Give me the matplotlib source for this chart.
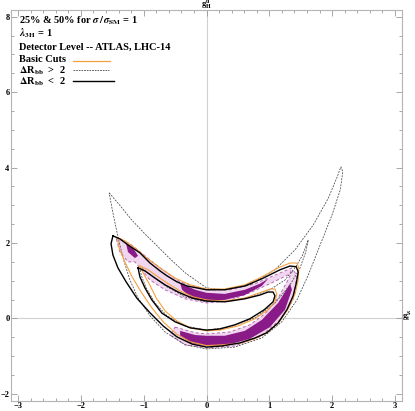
import numpy as np
import matplotlib
matplotlib.use("Agg")
import matplotlib.pyplot as plt

plt.rcParams["font.family"] = "serif"
plt.rcParams["font.serif"] = ["Liberation Serif", "DejaVu Serif"]
plt.rcParams["font.weight"] = "bold"
plt.rcParams["mathtext.fontset"] = "stix"

# contour loops, points are (g_t^S, g_H^u)
black_outer = [(-1.49, 2.19), (-1.38, 2.11), (-1.25, 1.95), (-1.06, 1.74), (-0.90, 1.47),
               (-0.74, 1.26), (-0.63, 1.13), (-0.47, 0.97), (-0.31, 0.86), (0.0, 0.76),
               (0.29, 0.76), (0.61, 0.86), (0.88, 1.05), (1.17, 1.29), (1.33, 1.39),
               (1.43, 1.37), (1.46, 1.23), (1.43, 0.94), (1.38, 0.60), (1.28, 0.23),
               (1.14, -0.12), (0.96, -0.38), (0.77, -0.52), (0.53, -0.65), (0.25, -0.73),
               (0.0, -0.76), (-0.23, -0.68), (-0.47, -0.49), (-0.69, -0.20), (-0.90, 0.15),
               (-1.11, 0.54), (-1.28, 0.97), (-1.41, 1.34), (-1.49, 1.68), (-1.52, 1.98)]
black_inner = [(-1.09, 1.34), (-0.98, 1.26), (-0.82, 1.07), (-0.66, 0.89), (-0.45, 0.70),
               (-0.23, 0.54), (0.0, 0.46), (0.29, 0.44), (0.61, 0.52), (0.85, 0.62),
               (0.98, 0.70), (1.06, 0.70), (1.09, 0.60), (1.06, 0.44), (0.92, 0.23),
               (0.69, -0.01), (0.45, -0.17), (0.21, -0.28), (0.0, -0.31), (-0.26, -0.25),
               (-0.50, -0.09), (-0.71, 0.14), (-0.87, 0.49), (-0.98, 0.81), (-1.06, 1.10)]
orange_outer = [(-1.41, 2.14), (-1.30, 2.06), (-1.14, 1.87), (-0.95, 1.60), (-0.74, 1.34),
                (-0.50, 1.07), (-0.26, 0.89), (0.0, 0.78), (0.29, 0.78), (0.61, 0.89),
                (0.88, 1.10), (1.14, 1.34), (1.33, 1.47), (1.44, 1.47), (1.47, 1.34),
                (1.46, 1.02), (1.41, 0.65), (1.31, 0.28), (1.17, -0.07), (0.98, -0.36),
                (0.77, -0.54), (0.53, -0.66), (0.25, -0.70), (0.0, -0.72), (-0.26, -0.62),
                (-0.48, -0.41), (-0.69, -0.09), (-0.87, 0.28), (-1.04, 0.70), (-1.19, 1.12),
                (-1.30, 1.50), (-1.38, 1.82), (-1.41, 2.03)]
orange_inner = [(-1.06, 1.39), (-0.93, 1.29), (-0.77, 1.10), (-0.61, 0.92), (-0.42, 0.73),
                (-0.21, 0.57), (0.0, 0.49), (0.29, 0.46), (0.61, 0.54), (0.88, 0.70),
                (1.01, 0.78), (1.09, 0.78), (1.12, 0.65), (1.09, 0.44), (0.98, 0.23),
                (0.77, -0.01), (0.50, -0.20), (0.21, -0.31), (0.0, -0.33), (-0.26, -0.25),
                (-0.47, -0.07), (-0.66, 0.20), (-0.80, 0.54), (-0.91, 0.91), (-1.01, 1.21)]
dashed_outer = [(-1.55, 3.33), (-1.41, 3.06), (-1.19, 2.61), (-0.98, 2.24), (-0.79, 1.93),
                (-0.58, 1.58), (-0.34, 1.21), (0.0, 0.81), (0.29, 0.76), (0.69, 0.89),
                (1.09, 1.29), (1.41, 1.82), (1.70, 2.48), (1.94, 3.19), (2.08, 3.75),
                (2.14, 4.02), (2.17, 3.89), (2.13, 3.41), (2.00, 2.75), (1.81, 1.95),
                (1.62, 1.15), (1.44, 0.49), (1.20, -0.09), (0.88, -0.52), (0.45, -0.76),
                (0.0, -0.81), (-0.34, -0.70), (-0.66, -0.36), (-0.90, 0.07), (-1.09, 0.54),
                (-1.22, 1.02), (-1.31, 1.50), (-1.38, 1.95), (-1.44, 2.40), (-1.50, 2.88)]
dashed_inner = [(1.62, 2.08), (1.53, 1.68), (1.43, 1.39), (1.25, 1.02), (1.01, 0.76),
                (0.69, 0.57), (0.37, 0.46), (0.0, 0.44), (-0.34, 0.57), (-0.63, 0.84),
                (-0.87, 1.13), (-1.01, 1.31), (-1.06, 1.34), (-1.04, 1.15), (-0.96, 0.81),
                (-0.82, 0.41), (-0.63, 0.07), (-0.34, -0.20), (0.0, -0.31), (0.37, -0.23),
                (0.77, 0.01), (1.09, 0.41), (1.33, 0.89), (1.49, 1.34), (1.58, 1.76)]

# 25% (dark) and 50% (light) regions
dark_upper = [(-0.42, 0.94), (-0.18, 0.76), (0.0, 0.68), (0.29, 0.65), (0.61, 0.76),
              (0.85, 0.92), (0.98, 1.05), (0.88, 0.86), (0.61, 0.62), (0.29, 0.49),
              (0.0, 0.46), (-0.23, 0.54), (-0.39, 0.76)]
dark_lower = [(-0.42, -0.33), (-0.18, -0.44), (0.0, -0.46), (0.29, -0.46), (0.61, -0.33),
              (0.88, -0.04), (1.14, 0.41), (1.33, 0.92), (1.36, 0.76), (1.25, 0.23),
              (1.01, -0.23), (0.69, -0.54), (0.34, -0.70), (0.0, -0.73), (-0.26, -0.65),
              (-0.42, -0.46)]
dark_left = [(-1.28, 1.98), (-1.17, 1.87), (-1.09, 1.66), (-1.14, 1.60), (-1.25, 1.76)]
light_upper = [(-1.44, 2.14), (-1.22, 1.98), (-0.98, 1.66), (-0.74, 1.34), (-0.42, 0.97),
               (0.0, 0.76), (0.37, 0.76), (0.77, 0.92), (1.09, 1.15), (1.36, 1.34),
               (1.33, 1.18), (1.01, 0.92), (0.69, 0.68), (0.34, 0.46), (0.0, 0.41),
               (-0.34, 0.52), (-0.66, 0.76), (-0.90, 1.02), (-1.06, 1.34), (-1.14, 1.50),
               (-1.25, 1.50), (-1.38, 1.76)]
light_lower = [(-0.50, -0.23), (-0.18, -0.38), (0.0, -0.41), (0.37, -0.36), (0.69, -0.17),
               (0.93, 0.12), (1.14, 0.54), (1.28, 0.97), (1.38, 1.29), (1.44, 1.13),
               (1.38, 0.49), (1.17, -0.04), (0.85, -0.49), (0.45, -0.73), (0.0, -0.78),
               (-0.34, -0.70), (-0.58, -0.44)]

legend_lines = ["25% & 50% for $\\sigma\\,/\\,\\sigma_{\\mathrm{SM}}$ = 1",
                "$\\lambda_{3\\,\\mathrm{H}}$ = 1",
                "Detector Level -- ATLAS, LHC-14",
                "Basic Cuts",
                "$\\Delta$R$_{\\mathrm{bb}}$  >  2",
                "$\\Delta$R$_{\\mathrm{bb}}$  <  2"]


def closed(pts):
    a = np.array(pts + pts[:1])
    return a[:, 0], a[:, 1]


fig = plt.figure(figsize=(4.15, 4.11), dpi=100)
ax = fig.add_axes([11 / 415, 10 / 411, 391 / 415, 391 / 411])
ax.set_xlim(-3.113, 3.113)
ax.set_ylim(-2.19, 8.18)

ax.axhline(0, color="#d0d0d0", lw=0.8, zorder=0)
ax.axvline(0, color="#d0d0d0", lw=0.8, zorder=0)

# purple regions
for pts in (light_upper, light_lower):
    x, y = closed(pts)
    ax.fill(x, y, color="#f0d6ef", lw=0, zorder=1)
    ax.plot(x, y, color="#b56ab3", lw=0.7, ls=(0, (3, 2.5)), zorder=2)
for pts in (dark_upper, dark_lower, dark_left):
    x, y = closed(pts)
    ax.fill(x, y, color="#8a1a88", lw=0, zorder=3)

# contour lines
for pts in (dashed_outer, dashed_inner):
    x, y = closed(pts)
    ax.plot(x, y, color="#444444", lw=0.55, ls=(0, (2.5, 1.5)), zorder=4)
for pts in (orange_outer, orange_inner):
    x, y = closed(pts)
    ax.plot(x, y, color="#f5a040", lw=0.8, zorder=5)
for pts in (black_outer, black_inner):
    x, y = closed(pts)
    ax.plot(x, y, color="black", lw=1.0, zorder=6)

ax.set_xticks(np.arange(-3, 4, 1))
ax.set_xticks(np.arange(-3, 3.01, 0.2), minor=True)
ax.set_yticks(np.arange(-2, 9, 2))
ax.set_yticks(np.arange(-2, 8.01, 0.5), minor=True)
ax.tick_params(which="both", direction="in", top=True, right=True, color="#999999",
               labelsize=6, pad=1, width=0.6)
ax.tick_params(which="major", length=4)
ax.tick_params(which="minor", length=2)
for s in ax.spines.values():
    s.set_color("#b4b4b4")
    s.set_linewidth(0.8)

fig.text(206 / 415, 1 - 5 / 411, "g$^{\\mathrm{u}}_{\\mathrm{H}}$", ha="center", va="center", fontsize=6)
fig.text(407 / 415, 1 - 316 / 411, "g$^{\\mathrm{S}}_{\\mathrm{t}}$", ha="center", va="center", fontsize=6)

ypos = [21, 33, 47, 59, 71, 82]
for t, yp in zip(legend_lines, ypos):
    fig.text(19 / 415, 1 - yp / 411, t, ha="left", va="center", fontsize=7.5)

ax.plot([73 / 415, 110 / 415], [1 - 61 / 411] * 2, transform=fig.transFigure,
        color="#f5a040", lw=0.9, clip_on=False)
ax.plot([73 / 415, 109 / 415], [1 - 70 / 411] * 2, transform=fig.transFigure,
        color="#444444", lw=0.6, ls=(0, (2, 1.2)), clip_on=False)
ax.plot([73 / 415, 114 / 415], [1 - 81 / 411] * 2, transform=fig.transFigure,
        color="black", lw=1.0, clip_on=False)

fig.savefig("out.png", dpi=100)
